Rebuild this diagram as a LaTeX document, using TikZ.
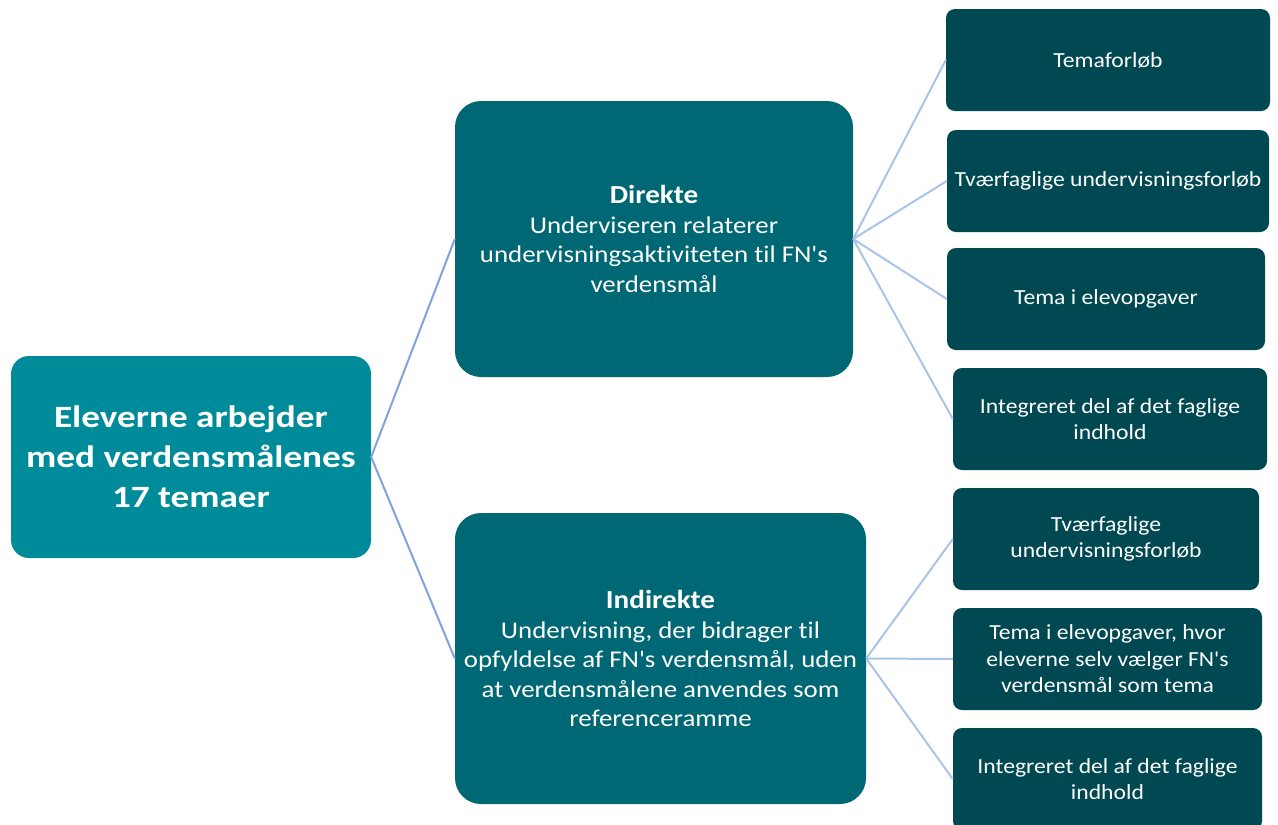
\documentclass[tikz,border=0pt]{standalone}
\usepackage{fontspec}
\setmainfont{Carlito}[Ligatures={TeXOff,CommonOff}]
\newfontfamily\rootfont{Carlito}[Ligatures={TeXOff,CommonOff},FakeStretch=1.2]
\newfontfamily\midfont{Carlito}[Ligatures={TeXOff,CommonOff},FakeStretch=1.12]
\newfontfamily\leaffont{Carlito}[Ligatures={TeXOff,CommonOff},FakeStretch=1.1]
\newcommand\headtxt[1]{{\fontsize{26}{29.5}\selectfont\bfseries #1}}
\definecolor{rootc}{RGB}{0,139,154}
\definecolor{midc}{RGB}{0,104,116}
\definecolor{leafc}{RGB}{0,72,82}
\definecolor{linkA}{RGB}{128,164,218}
\definecolor{linkB}{RGB}{168,196,230}
\tikzset{
  box/.style={rounded corners=#1, text=white, align=center, inner sep=0pt},
  rootbox/.style={box=18pt, fill=rootc, font=\rootfont\fontsize{31}{40}\selectfont\bfseries},
  midbox/.style={box=26pt, fill=midc, font=\midfont\fontsize{24}{29.5}\selectfont},
  leafbox/.style={box=9pt, fill=leafc, font=\leaffont\fontsize{21.5}{26.5}\selectfont},
  linkroot/.style={draw=linkA, line width=2pt},
  linkleaf/.style={draw=linkB, line width=2pt},
}
\begin{document}
\begin{tikzpicture}[x=1pt,y=-1pt]
\useasboundingbox (0,0) rectangle (1278,825);
\clip (0,0) rectangle (1278,825);
\node[rootbox, minimum width=360pt, minimum height=202pt] (root) at (191,457)
  {Eleverne arbejder\\med verdensmålenes\\17 temaer};
\node[midbox, minimum width=398pt, minimum height=276pt] (dir) at (654,239)
  {\headtxt{Direkte}\\Underviseren relaterer\\undervisningsaktiviteten til FN's\\verdensmål};
\node[midbox, minimum width=411pt, minimum height=291pt] (ind) at (660.5,658.5)
  {\headtxt{Indirekte}\\Undervisning, der bidrager til\\opfyldelse af FN's verdensmål, uden\\at verdensmålene anvendes som\\referenceramme};
\node[leafbox, minimum width=324pt, minimum height=102pt] (c1) at (1108,60) {Temaforløb};
\node[leafbox, minimum width=322pt, minimum height=102pt] (c2) at (1108,181) {Tværfaglige undervisningsforløb};
\node[leafbox, minimum width=318pt, minimum height=102pt] (c3) at (1106,299) {Tema i elevopgaver};
\node[leafbox, minimum width=314pt, minimum height=102pt] (c4) at (1110,419) {Integreret del af det faglige\\indhold};
\node[leafbox, minimum width=306pt, minimum height=102pt] (c5) at (1106,539) {Tværfaglige\\undervisningsforløb};
\node[leafbox, minimum width=309pt, minimum height=102pt] (c6) at (1107.5,659) {Tema i elevopgaver, hvor\\eleverne selv vælger FN's\\verdensmål som tema};
\node[leafbox, minimum width=309pt, minimum height=102pt] (c7) at (1107.5,779) {Integreret del af det faglige\\indhold};
\draw[linkroot] (dir.west) -- (root.east) -- (ind.west);
\foreach \c in {c1,c2,c3,c4} \draw[linkleaf] (dir.east) -- (\c.west);
\foreach \c in {c5,c6,c7} \draw[linkleaf] (ind.east) -- (\c.west);
\end{tikzpicture}
\end{document}
